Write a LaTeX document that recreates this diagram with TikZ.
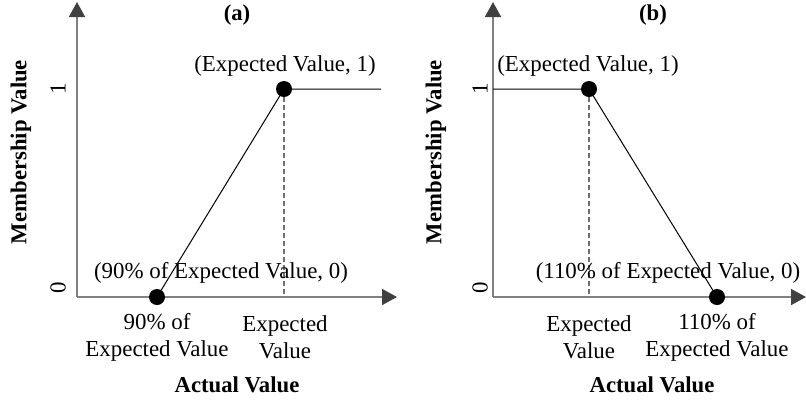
\documentclass[tikz,border=0pt]{standalone}
\usepackage{fontspec}
\setmainfont{Liberation Serif}
\usetikzlibrary{arrows.meta}
\definecolor{axisgray}{HTML}{808080}
\definecolor{tipgray}{HTML}{404040}
\definecolor{dashgray}{HTML}{707070}
\begin{document}
\begin{tikzpicture}[x=1bp,y=-1bp,
  font=\fontsize{23}{27}\selectfont,
  axisline/.style={draw=axisgray, line width=1.6bp, -{Triangle[length=15bp,width=16bp,color=tipgray]}},
  curve/.style={draw=black, line width=1bp},
  guide/.style={draw=dashgray, line width=1.2bp, dash pattern=on 5bp off 3bp},
  dot/.style={circle, fill=black, inner sep=0pt, minimum size=16bp},
  lbl/.style={inner sep=0pt},
  bold/.style={inner sep=0pt, font=\fontsize{22.8}{27}\selectfont\bfseries},
  tick/.style={inner sep=0pt, rotate=90}]
\useasboundingbox (0,0) rectangle (806,401);

% ---------------- panel (a) ----------------
\coordinate (aO) at (77,297);
\coordinate (aY) at (77,2);
\coordinate (aX) at (397,297);
\coordinate (aP1) at (157,297);
\coordinate (aP2) at (284,89);
\coordinate (aE) at (381,89);
\coordinate (aF) at (284,297);
\draw[guide] (aP2) -- (aF);
\draw[axisline] (aO) -- (aY);
\draw[axisline] (aO) -- (aX);
\draw[curve] (aP1) -- (aP2) -- (aE);
\node[dot] (ad1) at (aP1) {};
\node[dot] (ad2) at (aP2) {};

\node[bold] (atitle) at (237,15) {(a)};
\node[lbl] (alab2) at (285,66) {(Expected Value, 1)};
\node[lbl] (alab1) at (221,273) {(90\% of Expected Value, 0)};
\node[tick] (aone) at (58,89) {1};
\node[tick] (azero) at (58,288) {0};
\node[bold, rotate=90] (aylab) at (21,152) {Membership Value};
\node[lbl, align=center] (ax1) at (157,337) {90\% of\\Expected Value};
\node[lbl, align=center] (ax2) at (285,337) {Expected\\Value};
\node[bold] (axlab) at (237,385) {Actual Value};

% ---------------- panel (b) ----------------
\coordinate (bO) at (493,297);
\coordinate (bY) at (493,2);
\coordinate (bX) at (806,297);
\coordinate (bP1) at (589,89);
\coordinate (bP2) at (717,297);
\coordinate (bS) at (493,89);
\coordinate (bF) at (589,297);
\draw[guide] (bP1) -- (bF);
\draw[axisline] (bO) -- (bY);
\draw[axisline] (bO) -- (bX);
\draw[curve] (bS) -- (bP1) -- (bP2);
\node[dot] (bd1) at (bP1) {};
\node[dot] (bd2) at (bP2) {};

\node[bold] (btitle) at (653,15) {(b)};
\node[lbl] (blab1) at (588,66) {(Expected Value, 1)};
\node[lbl] (blab2) at (668,273) {(110\% of Expected Value, 0)};
\node[tick] (bone) at (480,89) {1};
\node[tick] (bzero) at (480,288) {0};
\node[bold, rotate=90] (bylab) at (436,152) {Membership Value};
\node[lbl, align=center] (bx1) at (589,337) {Expected\\Value};
\node[lbl, align=center] (bx2) at (717,337) {110\% of\\Expected Value};
\node[bold] (bxlab) at (652,385) {Actual Value};
\end{tikzpicture}
\end{document}
